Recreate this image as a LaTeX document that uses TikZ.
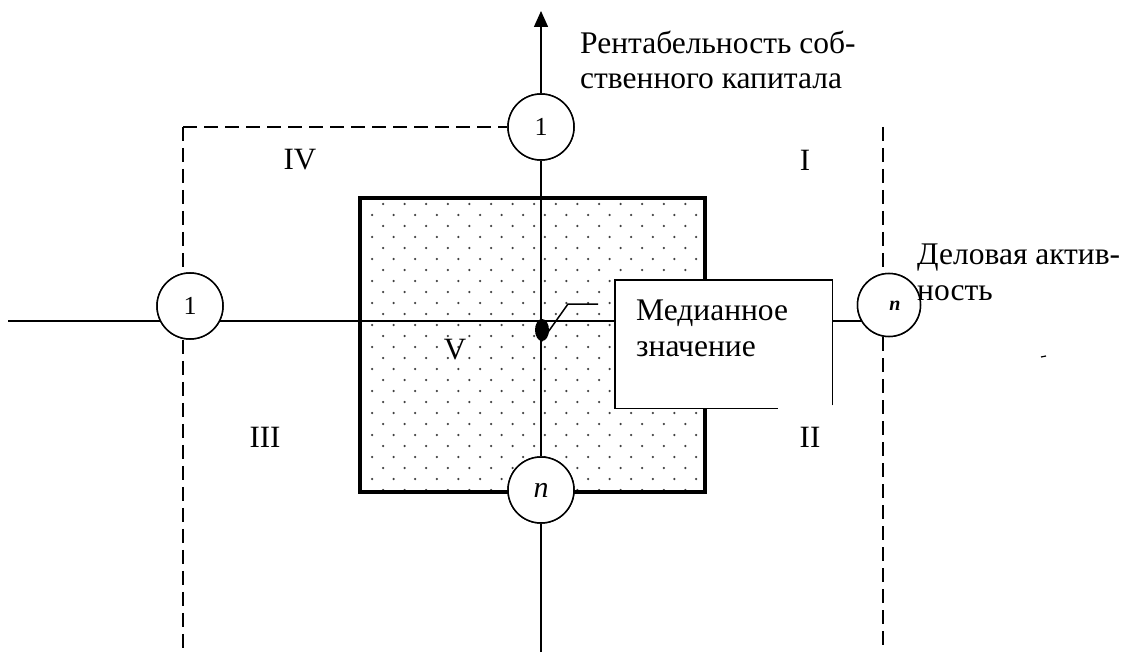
\documentclass[tikz,border=0pt]{standalone}
\usepackage{fontspec}
\setmainfont{Liberation Serif}
\usetikzlibrary{arrows.meta,calc,shapes.geometric}

\begin{document}
\begin{tikzpicture}[x=1pt,y=-1pt,
  axisline/.style={line width=1.5pt},
  dashline/.style={line width=1.8pt, dash pattern=on 14pt off 7pt},
  marker/.style={circle, draw, line width=1.5pt, fill=white, minimum size=66pt, inner sep=0pt},
  smallmarker/.style={marker, minimum size=63pt},
  onefont/.style={font=\fontsize{26}{26}\selectfont},
  nfont/.style={font=\fontsize{30}{30}\selectfont\itshape},
  nsmallfont/.style={font=\fontsize{20}{20}\selectfont\bfseries\itshape},
  label/.style={font=\fontsize{31.5}{36}\selectfont, inner sep=0pt},
  quadrant/.style={font=\fontsize{31}{36}\selectfont, inner sep=0pt},
  boxline/.style={line width=1.5pt}
]
\useasboundingbox (0,0) rectangle (1127,655);

% dotted median zone
\coordinate (sqnw) at (360,198);
\coordinate (sqse) at (705,492);
\begin{scope}
  \clip (sqnw) rectangle (sqse);
  \foreach \r in {0,...,27} {
    \pgfmathsetmacro{\yy}{204+11*\r}
    \pgfmathsetmacro{\xo}{mod(\r,2)==0 ? 383 : 372}
    \foreach \c in {0,...,16} {
      \fill[black!75] ({\xo+21.6*\c},\yy) circle (1.25pt);
    }
  }
\end{scope}

% outer dashed frame
\coordinate (dtl) at (183,127);
\coordinate (dbl) at (183,650);
\coordinate (dtr) at (883,127);
\coordinate (dbr) at (883,650);

% axis end points
\coordinate (vtop) at (541,11);
\coordinate (vbot) at (541,652);
\coordinate (hleft) at (8,321);

% markers on the axes
\node[marker, onefont] (onetop) at (541,127) {1};
\node[marker, onefont] (oneleft) at (190,306) {\raisebox{-4pt}{1}};
\node[marker, nfont] (nbot) at (541,490) {\raisebox{-8pt}{n}};
\node[smallmarker, nsmallfont] (nright) at (889,305) {\hspace*{12pt}\raisebox{-10pt}{n}};

% dashed frame lines
\draw[dashline] (dtl) -- (onetop.west);
\draw[dashline] (dtl) -- (oneleft.north -| dtl);
\draw[dashline] (oneleft.south -| dtl) -- (dbl);
\draw[dashline] (dtr) -- (nright.north -| dtr);
\draw[dashline] (nright.south -| dtr) -- (dbr);

% median square outline
\draw[line width=4.5pt] (sqnw) rectangle (sqse);

% axes
\draw[axisline] (vbot) -- (nbot.south);
\draw[axisline] (nbot.north) -- (onetop.south);
\draw[axisline, -{Triangle[length=16pt,width=14pt]}] (onetop.north) -- (vtop);
\draw[axisline] (hleft) -- (oneleft.center |- hleft);
\draw[axisline] (oneleft.center |- hleft) -- (nright.center |- hleft);

% callout box
\node[fill=white, inner sep=0pt, minimum width=217pt, minimum height=128pt, anchor=north west] (median) at (615,280) {};
\draw[boxline] ($(median.south east)+(0,-3)$) -- (median.north east) -- (median.north west) -- (median.south west) -- ($(median.south west)+(163,0)$);
\node[label, anchor=base west] (medA) at (636,320) {Медианное};
\node[label, anchor=base west] (medB) at (636,356) {значение};

% median point and leader
\node[ellipse, fill=black, inner sep=0pt, minimum width=14pt, minimum height=22pt] (mpoint) at (542,330) {};
\coordinate (lbend) at (568,304);
\coordinate (lend) at (598,304);
\draw[line width=1.5pt] ($(mpoint.center)+(-1,12)$) -- (lbend) -- (lend);

% markers again, over the axes
\node[marker, onefont] at (onetop) {1};
\node[marker, onefont] at (oneleft) {\raisebox{-4pt}{1}};
\node[marker, nfont] at (nbot) {\raisebox{-8pt}{n}};
\node[smallmarker, nsmallfont] at (nright) {\hspace*{12pt}\raisebox{-10pt}{n}};

% axis titles
\node[label, anchor=base west] (roeA) at (580,54) {Рентабельность соб-};
\node[label, anchor=base west] (roeB) at (580,89) {ственного капитала};
\node[label, anchor=base west] (actA) at (917,264) {Деловая актив-};
\node[label, anchor=base west] (actB) at (917,300) {ность};

% quadrant numerals
\node[quadrant] (qIV) at (300,160) {IV};
\node[quadrant] (qI) at (805,160) {I};
\node[quadrant] (qIII) at (265,437) {III};
\node[quadrant] (qII) at (810,437) {II};
\node[quadrant] (qV) at (455,350) {V};

% small stray tick
\draw[line width=1.2pt] (1041,357) -- (1046,356);
\end{tikzpicture}
\end{document}
